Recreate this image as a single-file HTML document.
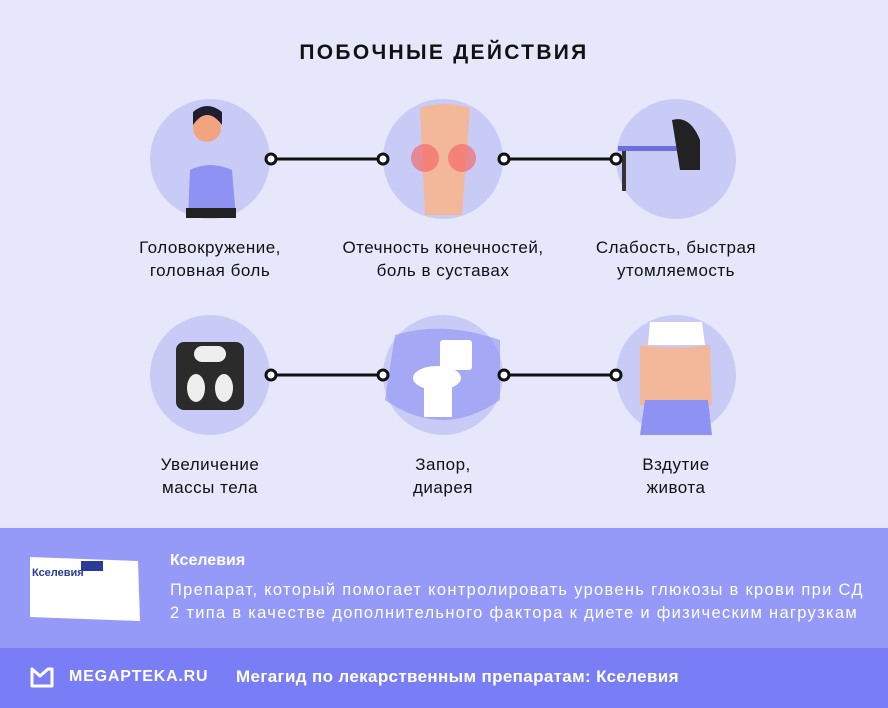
<!DOCTYPE html>
<html><head><meta charset="utf-8"><style>
html,body{margin:0;padding:0}
body{width:888px;height:708px;position:relative;overflow:hidden;background:#e7e7fc;font-family:"Liberation Sans",sans-serif}
.t{position:absolute;width:260px;text-align:center;font-size:17px;letter-spacing:0.5px;line-height:23px;color:#111}
</style></head><body>
<svg width="888" height="708" style="position:absolute;left:0;top:0">
<g fill="#c9cbf7">
<circle cx="210" cy="159" r="60"/><circle cx="443" cy="159" r="60"/><circle cx="676" cy="159" r="60"/>
<circle cx="210" cy="375" r="60"/><circle cx="443" cy="375" r="60"/><circle cx="676" cy="375" r="60"/>
</g>
<path d="M188 218 L190 170 Q210 160 232 170 L236 218Z" fill="#8e93f3"/>
<rect x="186" y="208" width="50" height="10" fill="#222"/>
<circle cx="207" cy="128" r="14" fill="#f2a47e"/><path d="M193 125 Q207 105 222 125 L222 112 Q207 100 193 112Z" fill="#1e1e2e"/>
<path d="M420 108 Q445 100 470 108 L462 215 L425 215Z" fill="#f3b89a"/>
<circle cx="425" cy="158" r="14" fill="#f36b6b" opacity=".7"/><circle cx="462" cy="158" r="14" fill="#f36b6b" opacity=".7"/>
<rect x="618" y="146" width="68" height="5" fill="#6a6fe0"/><rect x="622" y="151" width="4" height="40" fill="#333"/>
<path d="M672 120 Q690 115 700 140 L700 170 L680 170Z" fill="#222"/>
<rect x="176" y="342" width="68" height="68" rx="8" fill="#2b2b2b"/><rect x="194" y="346" width="32" height="16" rx="8" fill="#eee"/>
<ellipse cx="196" cy="388" rx="9" ry="14" fill="#eee"/><ellipse cx="224" cy="388" rx="9" ry="14" fill="#eee"/>
<path d="M395 335 Q443 320 500 340 L500 400 Q443 440 385 400Z" fill="#8e93f3" opacity=".6"/>
<rect x="440" y="340" width="32" height="30" rx="3" fill="#fff"/><ellipse cx="437" cy="378" rx="24" ry="12" fill="#fff"/><rect x="424" y="385" width="28" height="32" fill="#fff"/>
<path d="M650 322 L702 322 L705 345 L648 345Z" fill="#fff"/><path d="M640 345 Q676 350 710 345 L712 405 L640 405Z" fill="#f3b89a"/>
<path d="M645 400 L708 400 L712 435 L640 435Z" fill="#8e93f3"/>
<g stroke="#111" stroke-width="3" fill="#fff">
<line x1="276" y1="159" x2="378" y2="159"/><line x1="509" y1="159" x2="611" y2="159"/>
<line x1="276" y1="375" x2="378" y2="375"/><line x1="509" y1="375" x2="611" y2="375"/>
<circle cx="271" cy="159" r="5"/><circle cx="383" cy="159" r="5"/><circle cx="504" cy="159" r="5"/><circle cx="616" cy="159" r="5"/>
<circle cx="271" cy="375" r="5"/><circle cx="383" cy="375" r="5"/><circle cx="504" cy="375" r="5"/><circle cx="616" cy="375" r="5"/>
</g>
<rect x="0" y="528" width="888" height="120" fill="#959af9"/>
<rect x="0" y="648" width="888" height="60" fill="#7a7ef6"/>
<path d="M30 557 L138 561 L140 621 L30 617Z" fill="#fff"/>
<rect x="81" y="561" width="22" height="10" fill="#2a3a9a"/>
<path d="M32 669 L40 676 L48 669 L52 669 L52 686 L32 686Z" fill="none" stroke="#fff" stroke-width="3" stroke-linejoin="round"/>
</svg>
<div style="position:absolute;left:0;width:888px;top:41px;text-align:center;font-size:21px;font-weight:bold;letter-spacing:2.3px;color:#111">ПОБОЧНЫЕ ДЕЙСТВИЯ</div>
<div class="t" style="left:80px;top:236px">Головокружение,<br>головная боль</div>
<div class="t" style="left:313px;top:236px">Отечность конечностей,<br>боль в суставах</div>
<div class="t" style="left:546px;top:236px">Слабость, быстрая<br>утомляемость</div>
<div class="t" style="left:80px;top:453px">Увеличение<br>массы тела</div>
<div class="t" style="left:313px;top:453px">Запор,<br>диарея</div>
<div class="t" style="left:546px;top:453px">Вздутие<br>живота</div>
<div style="position:absolute;left:32px;top:567px;font-size:11px;font-weight:bold;color:#2a3a9a">Кселевия</div>
<div style="position:absolute;left:170px;top:552px;font-size:16px;font-weight:bold;color:#fff">Кселевия</div>
<div style="position:absolute;left:170px;top:579px;width:718px;font-size:16.5px;letter-spacing:1.3px;line-height:23px;color:#fff;white-space:nowrap">Препарат, который помогает контролировать уровень глюкозы в крови при СД<br>2 типа в качестве дополнительного фактора к диете и физическим нагрузкам</div>
<div style="position:absolute;left:69px;top:668px;font-size:16px;font-weight:bold;letter-spacing:0.8px;color:#fff">MEGAPTEKA.RU</div>
<div style="position:absolute;left:236px;top:667px;font-size:17px;letter-spacing:0.35px;font-weight:bold;color:#fff;white-space:nowrap">Мегагид по лекарственным препаратам: Кселевия</div>
</body></html>
